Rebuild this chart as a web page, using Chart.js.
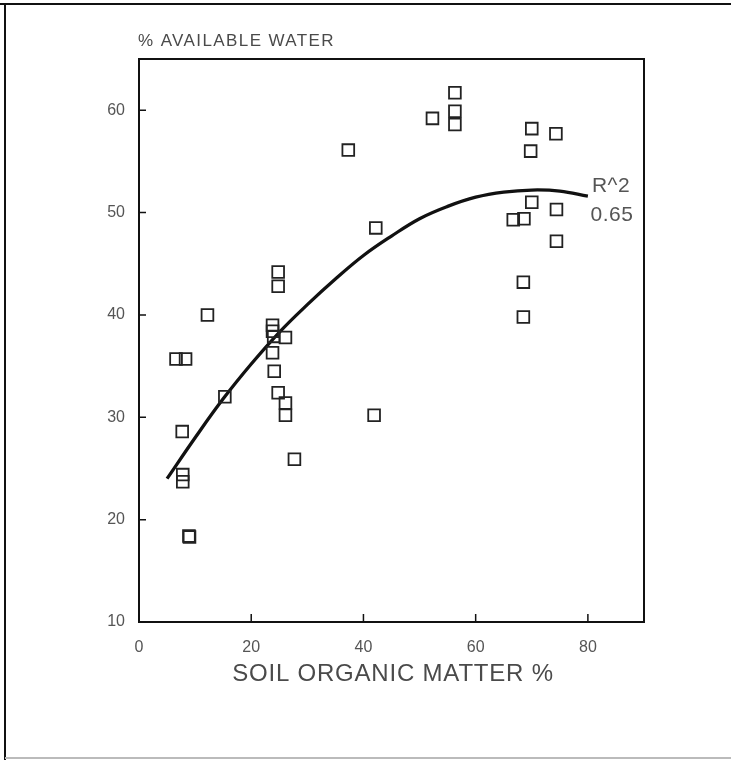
<!DOCTYPE html>
<html>
<head>
<meta charset="utf-8">
<script src="https://cdn.jsdelivr.net/npm/chart.js@4"></script>
<style>
  html, body { margin: 0; padding: 0; background: #fff; }
  #wrap { position: relative; width: 731px; height: 760px; }
</style>
</head>
<body>
<div id="wrap"><canvas id="chart" width="731" height="760"></canvas></div>
<script>
// organic matter % vs available water %
const organicMatter = [6.6, 8.3, 12.2, 15.3, 7.7, 7.8, 7.8, 8.9, 9.0,
    23.8, 23.8, 24.0, 26.1, 23.8, 24.1, 24.8, 26.1, 26.1, 24.8, 24.8, 27.7, 41.9,
    37.3, 52.3, 56.3, 56.3, 56.3, 42.2,
    70.0, 74.3, 69.8, 70.0, 74.4, 66.7, 68.6, 74.4, 68.5, 68.5];
const availableWater = [35.7, 35.7, 40.0, 32.0, 28.6, 24.4, 23.7, 18.4, 18.3,
    39.0, 38.4, 37.9, 37.8, 36.3, 34.5, 32.4, 31.4, 30.2, 44.2, 42.8, 25.9, 30.2,
    56.1, 59.2, 61.7, 59.9, 58.6, 48.5,
    58.2, 57.7, 56.0, 51.0, 50.3, 49.3, 49.4, 47.2, 43.2, 39.8];

// fitted curve as drawn
const fitX = [5, 10, 15, 20, 25, 30, 35, 40, 45, 50, 55, 60, 65, 70, 75, 80];
const fitY = [24.0, 28.0, 31.8, 35.2, 38.3, 41.0, 43.5, 45.8, 47.7, 49.4, 50.6, 51.5, 52.0, 52.2, 52.1, 51.6];

const xTicks = [0, 20, 40, 60, 80];
const yTicks = [10, 20, 30, 40, 50, 60];

const yTitle = "% AVAILABLE WATER";
const xTitle = "SOIL ORGANIC MATTER %";
const fitNote = ["R^2", "0.65"];

const textFont = "'Liberation Sans', 'DejaVu Sans', sans-serif";

// box, inward ticks, titles and the outer frame
const framePlugin = {
    id: "frame",
    afterDraw(chart) {
        const ctx = chart.ctx;
        const a = chart.chartArea;
        const xs = chart.scales.x, ys = chart.scales.y;
        ctx.save();

        // page frame
        ctx.strokeStyle = "#111";
        ctx.lineWidth = 2;
        ctx.beginPath();
        ctx.moveTo(0, 4); ctx.lineTo(731, 4);
        ctx.moveTo(5, 4); ctx.lineTo(5, 760);
        ctx.stroke();
        ctx.strokeStyle = "#bbb";
        ctx.beginPath();
        ctx.moveTo(5, 758); ctx.lineTo(731, 758);
        ctx.stroke();

        // plot box
        ctx.strokeStyle = "#111";
        ctx.lineWidth = 2;
        ctx.strokeRect(a.left, a.top, a.right - a.left, a.bottom - a.top);

        ctx.lineWidth = 1.5;
        ctx.beginPath();
        yTicks.forEach(v => {
            const y = ys.getPixelForValue(v);
            ctx.moveTo(a.left, y); ctx.lineTo(a.left + 7, y);
        });
        xTicks.forEach(v => {
            const x = xs.getPixelForValue(v);
            ctx.moveTo(x, a.bottom); ctx.lineTo(x, a.bottom - 8);
        });
        ctx.stroke();

        ctx.fillStyle = "#4a4a4a";
        ctx.textBaseline = "middle";
        ctx.textAlign = "left";
        ctx.letterSpacing = "1.4px";
        ctx.font = "17px " + textFont;
        ctx.fillText(yTitle, 138, 41);

        ctx.textAlign = "center";
        ctx.letterSpacing = "0.8px";
        ctx.font = "24px " + textFont;
        ctx.fillText(xTitle, 393, 674);

        ctx.fillStyle = "#555";
        ctx.letterSpacing = "0.5px";
        ctx.font = "21px " + textFont;
        ctx.fillText(fitNote[0], 611, 186);
        ctx.fillText(fitNote[1], 612, 215);
        ctx.restore();
    }
};

new Chart(document.getElementById("chart"), {
    type: "scatter",
    data: {
        datasets: [
            {
                label: "samples",
                data: organicMatter.map((v, i) => ({ x: v, y: availableWater[i] })),
                pointStyle: "rect",
                pointRadius: 8.3,
                pointBorderWidth: 1.8,
                pointBackgroundColor: "rgba(255,255,255,0)",
                pointBorderColor: "#222",
                showLine: false
            },
            {
                label: "fit",
                data: fitX.map((v, i) => ({ x: v, y: fitY[i] })),
                showLine: true,
                borderColor: "#111",
                borderWidth: 3.3,
                pointRadius: 0,
                tension: 0.4,
                fill: false
            }
        ]
    },
    options: {
        responsive: false,
        animation: false,
        layout: { padding: { top: 59, right: 87, left: 0, bottom: 0 } },
        plugins: {
            legend: { display: false },
            tooltip: { enabled: false }
        },
        scales: {
            x: {
                type: "linear",
                min: 0,
                max: 90,
                afterBuildTicks: s => { s.ticks = xTicks.map(v => ({ value: v })); },
                afterFit: s => { s.height = 138; },
                grid: { display: false, drawTicks: false },
                border: { display: false },
                ticks: {
                    padding: 16,
                    color: "#555",
                    font: { family: textFont, size: 16 }
                }
            },
            y: {
                type: "linear",
                min: 10,
                max: 65,
                afterBuildTicks: s => { s.ticks = yTicks.map(v => ({ value: v })); },
                afterFit: s => { s.width = 139; },
                grid: { display: false, drawTicks: false },
                border: { display: false },
                ticks: {
                    padding: 14,
                    color: "#555",
                    font: { family: textFont, size: 16 }
                }
            }
        }
    },
    plugins: [framePlugin]
});
</script>
</body>
</html>
